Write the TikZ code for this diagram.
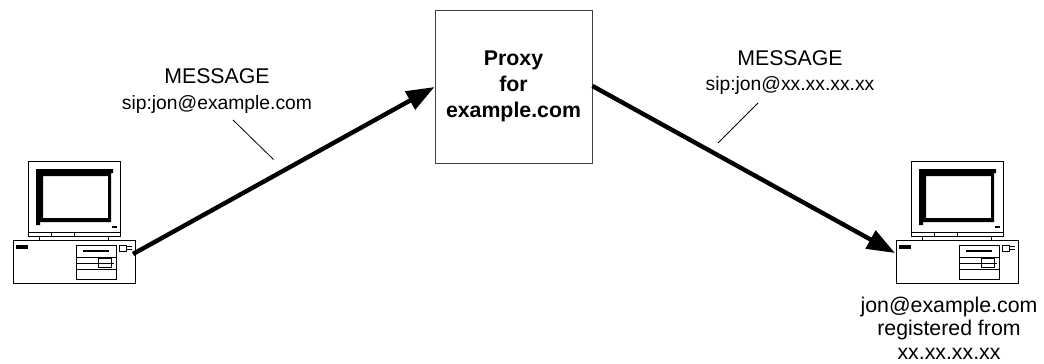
\documentclass[tikz,border=0pt]{standalone}
\usepackage{fontspec}
\setmainfont{Liberation Sans}
\usetikzlibrary{arrows.meta}
\tikzset{
 px/.style={x=1pt,y=-1pt},
 thin line/.style={draw=black,line width=0.8pt},
 box/.style={draw=black!75,line width=1pt,minimum width=157pt,minimum height=153pt,inner sep=0pt,align=center},
 flow/.style={line width=4.4pt,-{Triangle[length=28pt,width=20pt]}},
 lbl/.style={align=center,font=\fontsize{21.3}{25.5}\selectfont,inner sep=0pt},
 pc/.pic={
  \draw[thin line] (0,0) rectangle (92,75);
  \fill[black,even odd rule] (8,8) -- (85,8) -- (85,12) -- (83,12) -- (83,61) -- (12,61) -- (12,64) -- (8,64) -- cycle (15,15) rectangle (80,57);
  \draw[thin line] (0,71) -- (92,71) (23,71) -- (23,75) (46,71) -- (46,75);
  \draw[line width=1.5pt] (84,66) -- (89,66);
  \draw[thin line] (11,75) -- (11,79) (80,75) -- (80,79);
  \draw[thin line,line width=1pt] (-15,79) rectangle (107,122);
  \draw[line width=3.5pt] (-12,86) -- (0,86);
  \draw[thin line] (48,84) rectangle (88,118);
  \draw[thin line] (48,96) -- (88,96) (48,108) -- (88,108);
  \draw[line width=2pt] (55,90) -- (81,90);
  \draw[thin line] (49,102) -- (86,102);
  \draw[thin line] (70,97) rectangle (83,106);
  \draw[line width=0.6pt] (91,84) rectangle (98,90);
  \draw[line width=1.6pt] (99,85.5) -- (104,85.5) (99,88.5) -- (104,88.5);
 }
}
\begin{document}
\begin{tikzpicture}[px]
\useasboundingbox (0,0) rectangle (1044,364);
\node[box,font=\fontsize{21.3}{25.8}\selectfont\bfseries] (proxy) at (513.5,86.5) {Proxy\\for\\example.com};
\pic at (28,161) {pc};
\pic at (911,161) {pc};
\coordinate (a) at (133,254);
\coordinate (b) at (895,253);
\coordinate (l1a) at (233,120);
\coordinate (l1b) at (273.5,159.5);
\coordinate (l2a) at (758,103);
\coordinate (l2b) at (718,143);
\draw[flow] (a) -- (proxy.west |- 0,87);
\draw[flow] (proxy.east |- 0,86) -- (b);
\node[lbl] (m1) at (217,91) {MESSAGE\\{\fontsize{19.3}{24}\selectfont sip:jon@example.com}};
\node[lbl] (m2) at (790,72.5) {MESSAGE\\{\fontsize{19.3}{24}\selectfont sip:jon@xx.xx.xx.xx}};
\draw[thin line] (l1a) -- (l1b);
\draw[thin line] (l2a) -- (l2b);
\node[lbl,font=\fontsize{21.3}{23.5}\selectfont] (reg) at (949,328) {jon@example.com\\registered from\\xx.xx.xx.xx};
\end{tikzpicture}
\end{document}
